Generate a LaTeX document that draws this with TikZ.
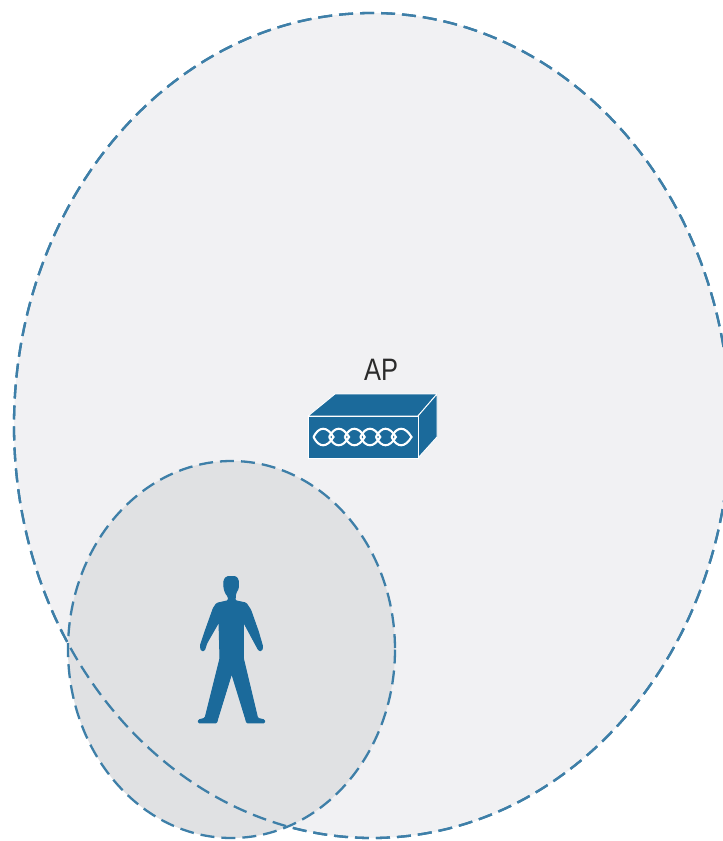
\documentclass[tikz,border=0pt]{standalone}
\usepackage{fontspec}
\setmainfont{Liberation Sans}
\definecolor{bluefill}{HTML}{1B6A9B}
\definecolor{dashblue}{HTML}{3E7FA8}
\definecolor{bigfill}{HTML}{F1F1F3}
\definecolor{smallfill}{HTML}{E0E1E3}
\definecolor{labelgrey}{HTML}{2B2B2B}
\tikzset{
  zone/.style={draw=dashblue,line width=2.3pt,dash pattern=on 14pt off 7pt},
  device/.style={fill=bluefill,draw=white,line width=0.9pt,line join=round},
  braid/.style={draw=white,line width=2.1pt},
  lbl/.style={font=\fontsize{31}{34}\selectfont,text=labelgrey,inner sep=0pt,xscale=.82}
}
\begin{document}
\begin{tikzpicture}[x=1pt,y=-1pt]
\useasboundingbox (0,0) rectangle (723,841);
\fill[white] (0,0) rectangle (723,841);
\begin{scope}
\clip (0,0) rectangle (723,841);
\path[zone,fill=bigfill] (372,425.5) ellipse [x radius=358,y radius=412.5];
\path[zone,fill=smallfill] (231.5,649.5) ellipse [x radius=163.5,y radius=188.5];
\draw[zone] (372,425.5) ellipse [x radius=358,y radius=412.5];
\end{scope}
\node[lbl] (aplabel) at (381,370) {AP};
% access point
\path[device] (308,416) -- (335,394) -- (437,394) -- (418,416) -- cycle;
\path[device] (418,416) -- (437,394) -- (437,437) -- (418,458) -- cycle;
\path[device] (308,416) rectangle (418,458);
\foreach \i in {0,...,5}{
  \draw[braid] ({313.5+15.6*\i},437) .. controls ({319+15.6*\i},426) and ({327+15.6*\i},426) .. ({333.5+15.6*\i},437)
     .. controls ({327+15.6*\i},448) and ({319+15.6*\i},448) .. ({313.5+15.6*\i},437);
}
% person
\begin{scope}[shift={(180,565)},x=0.3333pt,y=-0.3333pt]
\path[fill=bluefill,draw=bluefill,line width=1pt,line join=round,rounded corners=1.2pt] (140,35) -- (168,35) -- (175,45) -- (175,70) -- (167,85) -- (165,107) -- (198,114) -- (212,135) -- (235,200) -- (248,245) -- (245,257) -- (237,257) -- (225,235) -- (190,170) -- (190,280) -- (233,460) -- (254,465) -- (254,474) -- (200,474) -- (198,465) -- (155,325) -- (112,465) -- (110,474) -- (55,474) -- (55,465) -- (75,460) -- (120,280) -- (117,170) -- (80,235) -- (73,257) -- (64,257) -- (61,242) -- (75,200) -- (100,130) -- (110,115) -- (145,107) -- (145,95) -- (137,85) -- (132,70) -- (132,45) -- cycle;
\end{scope}
\end{tikzpicture}
\end{document}
